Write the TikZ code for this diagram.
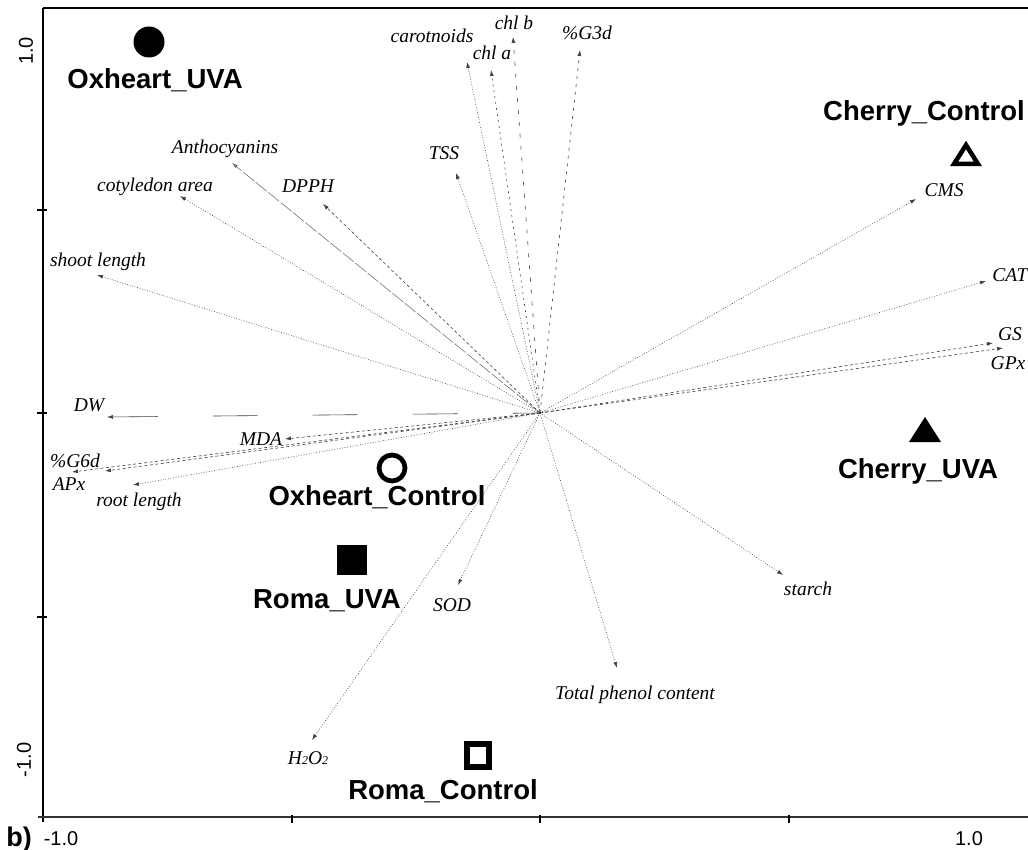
\documentclass[tikz,border=0pt]{standalone}
\usepackage{fontspec}
\setmainfont{Liberation Serif}
\setsansfont{Liberation Sans}
\usetikzlibrary{arrows.meta}
\begin{document}
\begin{tikzpicture}[x=1pt,y=-1pt,
  vec/.style={draw=black!75, line width=0.6pt, -{Latex[length=6pt,width=4pt]}},
  vecr/.style={draw=black!75, line width=0.6pt, {Latex[length=6pt,width=4pt]}-},
  dots/.style={vec, dash pattern=on 0.8pt off 1.8pt},
  dsh/.style={vec, dash pattern=on 3pt off 2.5pt},
  lng/.style={vec, dash pattern=on 14pt off 2pt},
  lbl/.style={font=\fontsize{19.5}{20}\selectfont\itshape, anchor=base, inner sep=0pt},
  grp/.style={font=\fontsize{27.5}{29}\selectfont\sffamily\bfseries, anchor=base, inner sep=0pt},
  ticklbl/.style={font=\fontsize{20}{21}\selectfont\sffamily, inner sep=0pt},
  axis/.style={draw=black, line width=2.2pt},
]
\useasboundingbox (0,0) rectangle (1028,850);
% frame
\coordinate (tl) at (43,8);
\coordinate (tr) at (1028,8);
\coordinate (bl) at (43,822);
\coordinate (bll) at (38,817);
\coordinate (br) at (1028,817);
\draw[axis, line width=2.8pt] (tl) -- (bl);
\draw[axis] (tl) -- (tr);
\draw[axis, draw=black!80] (bll) -- (br);
\foreach \yy in {210,413,617} {\draw[line width=1.6pt] (37,\yy) -- (47,\yy);}
\foreach \xx in {292,540,789} {\draw[line width=1.6pt] (\xx,815) -- (\xx,823);}
% tick labels
\node[ticklbl, rotate=90] (ly1) at (26,51) {1.0};
\node[ticklbl, rotate=90] (lym) at (24,760) {-1.0};
\node[ticklbl] (lxm) at (61,839) {-1.0};
\node[ticklbl] (lx1) at (969,839) {1.0};
\node[font=\fontsize{27}{28}\selectfont\sffamily\bfseries, anchor=base, inner sep=0pt] (pb) at (19,846) {b)};
% origin
\coordinate (o) at (540,413);
% tips
\coordinate (tCar) at (467,62);
\coordinate (tChla) at (491,70);
\coordinate (tChlb) at (513,37);
\coordinate (tG3d) at (580,50);
\coordinate (tTSS) at (456,173);
\coordinate (tAnt) at (232,163);
\coordinate (tCot) at (180,196);
\coordinate (tDPPH) at (323,204);
\coordinate (tShoot) at (97,275);
\coordinate (tDW) at (107,417);
\coordinate (tMDA) at (285,439);
\coordinate (tG6d) at (105,471);
\coordinate (tAPx) at (72,472);
\coordinate (tRoot) at (133,485);
\coordinate (tCMS) at (916,199);
\coordinate (tCAT) at (986,281);
\coordinate (tGS) at (993,343);
\coordinate (tGPx) at (1003,348);
\coordinate (tSOD) at (458,585);
\coordinate (tH) at (312,740);
\coordinate (tTPC) at (617,668);
\coordinate (tSt) at (783,575);
% vectors
\draw[dots] (o) -- (tCar);
\draw[dsh, dash pattern=on 2pt off 4pt] (o) -- (tChla);
\draw[dsh, dash pattern=on 4pt off 8pt] (o) -- (tChlb);
\draw[dsh, dash pattern=on 3pt off 5pt] (o) -- (tG3d);
\draw[dots] (o) -- (tTSS);
\draw[lng, draw=black!55] (o) -- (tAnt);
\draw[dots] (o) -- (tCot);
\draw[dsh] (o) -- (tDPPH);
\draw[dots] (o) -- (tShoot);
\draw[vecr, dash pattern=on 45pt off 55pt] (tDW) -- (o);
\draw[dsh] (o) -- (tMDA);
\draw[dsh] (o) -- (tG6d);
\draw[dsh] (o) -- (tAPx);
\draw[dots] (o) -- (tRoot);
\draw[dots] (o) -- (tCMS);
\draw[dots] (o) -- (tCAT);
\draw[dsh] (o) -- (tGS);
\draw[dsh] (o) -- (tGPx);
\draw[dots] (o) -- (tSOD);
\draw[dots] (o) -- (tH);
\draw[dots] (o) -- (tTPC);
\draw[dots] (o) -- (tSt);
% variable labels
\node[lbl] (nCar) at (432,43) {carotnoids};
\node[lbl] (nChla) at (492,60) {chl a};
\node[lbl] (nChlb) at (514,30) {chl b};
\node[lbl] (nG3d) at (587,40) {\%G3d};
\node[lbl] (nTSS) at (444,160) {TSS};
\node[lbl] (nAnt) at (225,154) {Anthocyanins};
\node[lbl] (nCot) at (155,192) {cotyledon area};
\node[lbl] (nDPPH) at (308,193) {DPPH};
\node[lbl] (nShoot) at (98,267) {shoot length};
\node[lbl] (nDW) at (89,411) {DW};
\node[lbl] (nMDA) at (261,445) {MDA};
\node[lbl] (nG6d) at (75,467) {\%G6d};
\node[lbl] (nAPx) at (69,490) {APx};
\node[lbl] (nRoot) at (139,506) {root length};
\node[lbl] (nCMS) at (944,197) {CMS};
\node[lbl] (nCAT) at (1010,282) {CAT};
\node[lbl] (nGS) at (1010,340) {GS};
\node[lbl] (nGPx) at (1008,369) {GPx};
\node[lbl] (nSOD) at (452,611) {SOD};
\node[lbl] (nH) at (308,764) {H\raisebox{-0.1ex}{\fontsize{12}{12}\selectfont 2}O\raisebox{-0.1ex}{\fontsize{12}{12}\selectfont 2}};
\node[lbl] (nTPC) at (635,699) {Total phenol content};
\node[lbl] (nSt) at (808,595) {starch};
% group markers
\fill (149,42) circle[radius=15.5];
\draw[line width=4.8pt] (392,468) circle[radius=13];
\fill (337,545) rectangle (367,575);
\draw[line width=6pt] (467,743.5) rectangle (489,766.5);
\draw[line width=4.5pt, line join=miter] (966,145) -- (954,164) -- (978,164) -- cycle;
\fill (925,417) -- (909,442) -- (941,442) -- cycle;
% group labels
\node[grp] (gOU) at (155,89) {Oxheart\_UVA};
\node[grp] (gCC) at (924,121) {Cherry\_Control};
\node[grp] (gCU) at (918,478) {Cherry\_UVA};
\node[grp] (gOC) at (377,505) {Oxheart\_Control};
\node[grp] (gRU) at (327,608) {Roma\_UVA};
\node[grp] (gRC) at (443,799) {Roma\_Control};
\end{tikzpicture}
\end{document}
